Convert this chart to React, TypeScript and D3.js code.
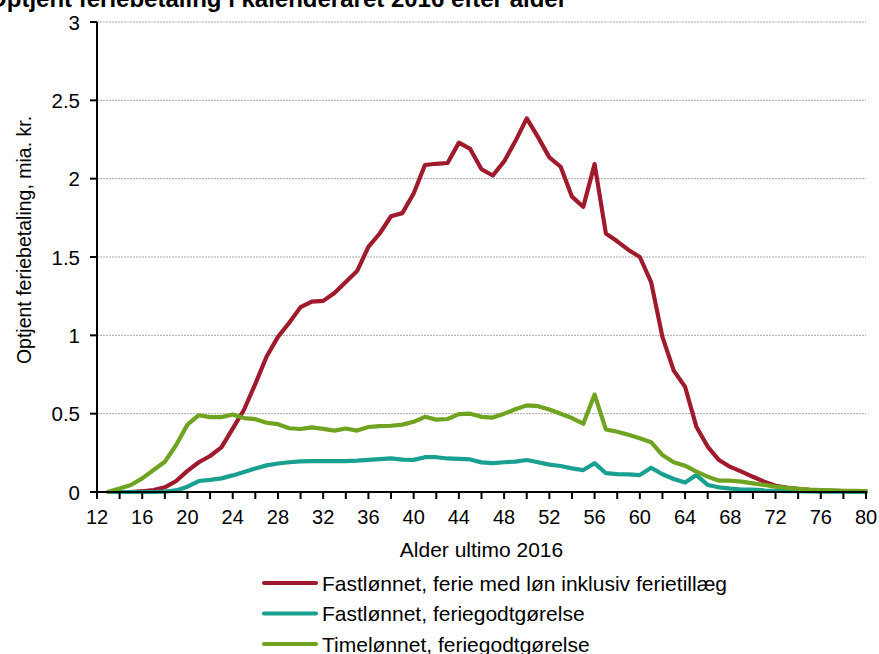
import React from "react";
import * as d3 from "d3";

const ages: number[] = d3.range(13, 81);

const fastFerieMedLon: number[] = [
  0, 0, 0, 0.005, 0.012, 0.03, 0.07, 0.135, 0.19, 0.23, 0.285, 0.405, 0.525, 0.69, 0.865, 0.99, 1.08, 1.18,
  1.215, 1.22, 1.27, 1.34, 1.41, 1.565, 1.65, 1.76, 1.78, 1.905, 2.087, 2.095, 2.1, 2.23, 2.19, 2.06, 2.02,
  2.11, 2.24, 2.385, 2.265, 2.136, 2.076, 1.885, 1.82, 2.093, 1.65, 1.6, 1.545, 1.5, 1.34, 0.99, 0.775, 0.672,
  0.417, 0.29, 0.204, 0.16, 0.13, 0.097, 0.066, 0.04, 0.028, 0.02, 0.014, 0.01, 0.007, 0.005, 0.003, 0.002,
];

const fastFeriegodtgorelse: number[] = [
  0, 0, 0, 0, 0, 0.002, 0.01, 0.034, 0.07, 0.077, 0.087, 0.106, 0.128, 0.15, 0.17, 0.182, 0.19, 0.196, 0.197,
  0.197, 0.197, 0.197, 0.2, 0.205, 0.21, 0.215, 0.207, 0.205, 0.222, 0.222, 0.214, 0.212, 0.208, 0.189, 0.184,
  0.19, 0.194, 0.204, 0.19, 0.175, 0.166, 0.151, 0.14, 0.184, 0.12, 0.114, 0.113, 0.108, 0.155, 0.113, 0.083,
  0.06, 0.108, 0.045, 0.03, 0.022, 0.016, 0.016, 0.01, 0.008, 0.006, 0.005, 0.004, 0.003, 0.002, 0.002, 0.001, 0.001,
];

const timeFeriegodtgorelse: number[] = [
  0.002, 0.022, 0.045, 0.087, 0.14, 0.193, 0.3, 0.43, 0.49, 0.478, 0.478, 0.495, 0.472, 0.465, 0.442, 0.433,
  0.407, 0.402, 0.412, 0.403, 0.392, 0.405, 0.392, 0.415, 0.42, 0.423, 0.43, 0.448, 0.48, 0.462, 0.466, 0.497,
  0.5, 0.48, 0.475, 0.5, 0.528, 0.553, 0.548, 0.527, 0.5, 0.472, 0.436, 0.622, 0.4, 0.385, 0.366, 0.343, 0.318,
  0.236, 0.19, 0.168, 0.13, 0.098, 0.072, 0.072, 0.066, 0.055, 0.045, 0.034, 0.026, 0.02, 0.015, 0.012, 0.01,
  0.008, 0.007, 0.006,
];

const yTicks: number[] = [0, 0.5, 1, 1.5, 2, 2.5, 3];
const xLabelTicks: number[] = d3.range(12, 81, 4);
const xMinorTicks: number[] = d3.range(12, 81, 2);

const seriesNames: string[] = [
  "Fastlønnet, ferie med løn inklusiv ferietillæg",
  "Fastlønnet, feriegodtgørelse",
  "Timelønnet, feriegodtgørelse",
];
const seriesColors: string[] = ["#9e1a2c", "#1aa090", "#6fa320"];

const title = "Optjent feriebetaling i kalenderåret 2016 efter alder";
const xTitle = "Alder ultimo 2016";
const yTitle = "Optjent feriebetaling, mia. kr.";

export default function App() {
  const W = 879;
  const H = 654;
  const left = 97;
  const right = 866;
  const top = 22;
  const bottom = 492;
  const x = d3.scaleLinear().domain([12, 80]).range([left, right]);
  const y = d3.scaleLinear().domain([0, 3]).range([bottom, top]);
  const font = "'Liberation Sans', Arial, sans-serif";

  const allSeries = [fastFerieMedLon, fastFeriegodtgorelse, timeFeriegodtgorelse];
  const line = d3
    .line<number>()
    .x((_, i) => x(ages[i]))
    .y((d) => y(d));

  return (
    <svg
      width={W}
      height={H}
      style={{ position: "absolute", left: 0, top: 0, background: "#fff" }}
      fontFamily={font}
    >
      <rect x={0} y={0} width={W} height={H} fill="#fff" />
      <text x={567} y={7} textAnchor="end" fontSize={24} fontWeight="bold" fill="#000">
        {title}
      </text>
      {yTicks.slice(1).map((t) => (
        <line
          key={"g" + t}
          x1={left}
          x2={right}
          y1={y(t)}
          y2={y(t)}
          stroke="#a8a8a8"
          strokeWidth={1}
          strokeDasharray="2,1"
        />
      ))}
      {allSeries.map((s, i) => (
        <path
          key={"s" + i}
          d={line(s) || ""}
          fill="none"
          stroke={seriesColors[i]}
          strokeWidth={4.2}
          strokeLinejoin="round"
          strokeLinecap="round"
        />
      ))}
      <line x1={left} x2={left} y1={top} y2={bottom + 1} stroke="#000" strokeWidth={2} />
      <line x1={left - 1} x2={right + 1} y1={bottom} y2={bottom} stroke="#000" strokeWidth={2} />
      {yTicks.map((t) => (
        <g key={"yt" + t}>
          <line x1={left - 7} x2={left} y1={y(t)} y2={y(t)} stroke="#000" strokeWidth={2} />
          <text x={80} y={y(t) + 7.5} textAnchor="end" fontSize={20.5} fill="#000">
            {String(t)}
          </text>
        </g>
      ))}
      {xMinorTicks.map((t) => (
        <line key={"xm" + t} x1={x(t)} x2={x(t)} y1={bottom} y2={bottom + 7} stroke="#000" strokeWidth={2} />
      ))}
      {xLabelTicks.map((t) => (
        <text key={"xl" + t} x={x(t)} y={524} textAnchor="middle" fontSize={20} fill="#000">
          {String(t)}
        </text>
      ))}
      <text x={(left + right) / 2} y={557} textAnchor="middle" fontSize={21} fill="#000">
        {xTitle}
      </text>
      <text
        transform={`translate(31, 240) rotate(-90)`}
        textAnchor="middle"
        fontSize={19.5}
        fill="#000"
      >
        {yTitle}
      </text>
      {seriesNames.map((n, i) => (
        <g key={"lg" + i} transform={`translate(0, ${583 + i * 30.5})`}>
          <line x1={264} x2={316} y1={0} y2={0} stroke={seriesColors[i]} strokeWidth={4.2} strokeLinecap="round" />
          <text x={322} y={7.5} fontSize={21} fill="#000">
            {n}
          </text>
        </g>
      ))}
    </svg>
  );
}
